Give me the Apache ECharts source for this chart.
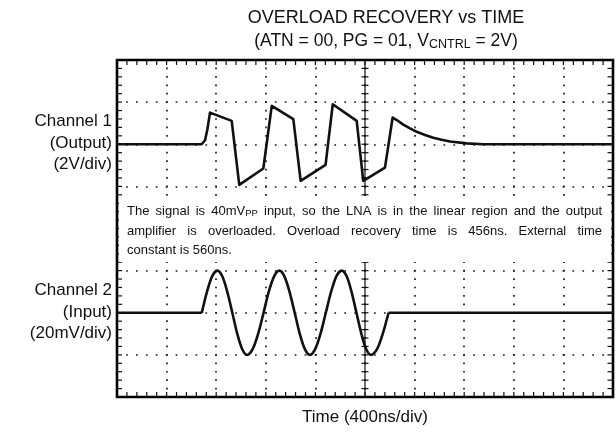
<!DOCTYPE html>
<html><head><meta charset="utf-8">
<script src="https://cdn.jsdelivr.net/npm/echarts@6/dist/echarts.min.js"></script>
<style>html,body{margin:0;padding:0;background:#fff}#c{width:616px;height:437px}</style>
</head><body><div id="c"></div>
<script>
// ---------------- data ----------------
const titleLine1 = 'OVERLOAD RECOVERY vs TIME';
const titleLine2 = '(ATN = 00, PG = 01, V_CNTRL_ = 2V)';   // _..._ marks subscript
const xAxisTitle = 'Time (400ns/div)';
const ch1Labels = ['Channel 1', '(Output)', '(2V/div)'];
const ch2Labels = ['Channel 2', '(Input)', '(20mV/div)'];
const noteLines = [
  'The signal is 40mV_PP_ input, so the LNA is in the linear region and the output',
  'amplifier is overloaded. Overload recovery time is 456ns. External time',
  'constant is 560ns.'
];

// time axis (ns), 400 ns/div, 10 divisions
const timeMin = 0, timeMax = 4000, timeStep = 400;
// channel 1 axis (V), 2 V/div
const ch1Min = -12, ch1Max = 4, ch1Step = 2;
// channel 2 axis (mV), 20 mV/div
const ch2Min = -40, ch2Max = 120, ch2Step = 20;

// Channel 1 (output), time in ns, value in V
const ch1Time = [0, 683, 710, 729, 750, 925, 986, 1180, 1248, 1422, 1481, 1682, 1740, 1933, 1986, 2161,
  2223, 2256, 2309, 2363, 2417, 2484, 2551, 2618, 2686, 2820, 2954, 4000];
const ch1Volt = [0, 0, 0.19, 0.71, 1.5, 1.11, -1.93, -1.15, 1.82, 1.19, -1.74, -0.98, 1.9, 1.11, -1.74, -1.11,
  1.27, 1.15, 0.93, 0.75, 0.59, 0.44, 0.31, 0.21, 0.13, 0.04, 0, 0];

// Channel 2 (input): resting level outside the burst, and the 3-cycle burst (time ns, value mV)
const ch2Rest = 0;
const ch2BurstTime = [684, 726, 767, 809, 849, 889, 930, 970, 1010, 1050, 1094, 1138, 1182,
  1224, 1267, 1309, 1350, 1391, 1433, 1474, 1515, 1556, 1598, 1641, 1684,
  1727, 1769, 1812, 1852, 1891, 1931, 1971, 2010, 2050, 2097, 2143, 2190];
const ch2BurstMilliVolt = [0, 10, 17.3, 20, 17.3, 10, 0, -10, -17.3, -20, -17.3, -10, 0,
  10, 17.3, 20, 17.3, 10, 0, -10, -17.3, -20, -17.3, -10, 0,
  10, 17.3, 20, 17.3, 10, 0, -10, -17.3, -20, -17.3, -10, 0];

// ---------------- layout helpers ----------------
const FONT = '"Liberation Sans", Arial, Helvetica, sans-serif';
const INK = '#111';
const mctx = document.createElement('canvas').getContext('2d');
function tw(t, s) { mctx.font = s + 'px ' + FONT; return mctx.measureText(t).width; }
// parse "abc_SUB_def" into segments
function segs(str, size, subSize) {
  return str.split('_').map((p, i) => ({ t: p, s: i % 2 ? subSize : size, sub: i % 2 === 1 })).filter(g => g.t.length);
}
function segWidth(sg) { return sg.reduce((a, g) => a + tw(g.t, g.s), 0); }
function placeSegs(sg, x, y, subDy, z) {
  const out = [];
  let cx = x;
  sg.forEach(g => {
    out.push({ type: 'text', x: cx, y: y + (g.sub ? subDy : 0), z: z, silent: true,
      style: { text: g.t, fontSize: g.s, fontFamily: FONT, fill: INK, align: 'left', verticalAlign: 'middle' } });
    cx += tw(g.t, g.s);
  });
  return out;
}
function centered(str, cx, y, size, subSize, subDy) {
  const sg = segs(str, size, subSize);
  return placeSegs(sg, cx - segWidth(sg) / 2, y, subDy, 60);
}
function justified(str, x0, x1, y, size, subSize, subDy, justify) {
  const words = str.split(' ').map(w => segs(w, size, subSize));
  const total = words.reduce((a, w) => a + segWidth(w), 0);
  const gap = justify && words.length > 1 ? (x1 - x0 - total) / (words.length - 1) : tw(' ', size);
  let x = x0; const out = [];
  words.forEach(w => { out.push(...placeSegs(w, x, y, subDy, 60)); x += segWidth(w) + gap; });
  return out;
}

// ---------------- chart ----------------
const chart = echarts.init(document.getElementById('c'), null, { renderer: 'canvas' });
const G = { left: 117, top: 60, width: 496, height: 337 };
const xDiv = G.width / ((timeMax - timeMin) / timeStep);
const yDiv = G.height / ((ch1Max - ch1Min) / ch1Step);

function zip(a, b) { return a.map((v, i) => [v, b[i]]); }

// channel 2 data: flat rest, break, smooth burst, break, flat rest
const bStart = ch2BurstTime[0], bEnd = ch2BurstTime[ch2BurstTime.length - 1];
const ch2Data = [[timeMin, ch2Rest], [bStart, ch2Rest], [bStart, null]]
  .concat(zip(ch2BurstTime, ch2BurstMilliVolt))
  .concat([[bEnd, null], [bEnd, ch2Rest], [timeMax, ch2Rest]]);

function xAxisCfg(pos, split) {
  return { type: 'value', position: pos, min: timeMin, max: timeMax, interval: timeStep,
    axisLine: { show: false, onZero: false }, axisLabel: { show: false }, axisTick: { show: false },
    splitLine: { show: split, lineStyle: { color: '#1a1a1a', width: 1.7, type: [1.7, yDiv / 5 - 1.7], dashOffset: 0.85 } } };
}
function yAxisCfg(pos, min, max, step, split) {
  return { type: 'value', position: pos, min: min, max: max, interval: step,
    axisLine: { show: false, onZero: false }, axisLabel: { show: false }, axisTick: { show: false },
    splitLine: { show: split, lineStyle: { color: '#1a1a1a', width: 1.7, type: [1.7, xDiv / 5 - 1.7], dashOffset: 0.85 } } };
}

const centerT = (timeMin + timeMax) / 2;

const graphics = [];
// white annotation box
graphics.push({ type: 'rect', z: 50, silent: true, shape: { x: 119, y: 196, width: 492, height: 66 }, style: { fill: '#fff' } });
// annotation text
graphics.push(...justified(noteLines[0], 127, 602, 211.5, 13, 9.5, 2, true));
graphics.push(...justified(noteLines[1], 127, 602, 231, 13, 9.5, 2, true));
graphics.push(...justified(noteLines[2], 127, 602, 250, 13, 9.5, 2, false));
// titles
graphics.push(...centered(titleLine1, 386, 18, 18, 12.5, 4));
graphics.push(...centered(titleLine2, 386, 41, 17.5, 12.5, 4));
// x axis title
graphics.push(...centered(xAxisTitle, 365, 417, 17, 12, 4));
// channel labels
[[ch1Labels, [121, 143, 164]], [ch2Labels, [290, 312, 333]]].forEach(([labs, ys]) => {
  labs.forEach((t, i) => graphics.push({ type: 'text', x: 112, y: ys[i], z: 60, silent: true,
    style: { text: t, fontSize: 17, fontFamily: FONT, fill: INK, align: 'right', verticalAlign: 'middle' } }));
});

const TK = { stroke: '#111', lineWidth: 1.2 };
chart.setOption({
  animation: false,
  backgroundColor: '#fff',
  grid: { left: G.left, top: G.top, width: G.width, height: G.height, show: true, borderColor: '#000', borderWidth: 2.6, backgroundColor: 'transparent', z: 4 },
  xAxis: [xAxisCfg('bottom', true), xAxisCfg('top', false)],
  yAxis: [yAxisCfg('left', ch1Min, ch1Max, ch1Step, true), yAxisCfg('right', ch2Min, ch2Max, ch2Step, false)],
  series: [
    { type: 'custom', xAxisIndex: 0, yAxisIndex: 0, silent: true, z: 1, data: [[centerT, ch1Min]],
      renderItem: function (params, api) {
        const ch = [];
        const top = api.coord([centerT, ch1Max]), bot = api.coord([centerT, ch1Min]);
        const lft = api.coord([timeMin, ch1Min])[0], rgt = api.coord([timeMax, ch1Min])[0];
        // centre vertical line with cross ticks, plus inward border ticks
        ch.push({ type: 'line', shape: { x1: top[0], y1: top[1], x2: bot[0], y2: bot[1] }, style: { stroke: '#111', lineWidth: 1.2 } });
        const vStep = ch1Step / 5;
        for (let v = ch1Min; v <= ch1Max + 1e-9; v += vStep) {
          const p = api.coord([centerT, v]);
          ch.push({ type: 'line', shape: { x1: p[0] - 3.5, y1: p[1], x2: p[0] + 3.5, y2: p[1] }, style: TK });
          ch.push({ type: 'line', shape: { x1: lft, y1: p[1], x2: lft + 5, y2: p[1] }, style: TK });
          ch.push({ type: 'line', shape: { x1: rgt, y1: p[1], x2: rgt - 5.5, y2: p[1] }, style: TK });
        }
        const tStep = timeStep / 5;
        for (let t = timeMin; t <= timeMax + 1e-9; t += tStep) {
          const p = api.coord([t, ch1Min]);
          ch.push({ type: 'line', shape: { x1: p[0], y1: top[1], x2: p[0], y2: top[1] + 5 }, style: TK });
          ch.push({ type: 'line', shape: { x1: p[0], y1: bot[1], x2: p[0], y2: bot[1] - 5 }, style: TK });
        }
        return { type: 'group', children: ch };
      } },
    { name: 'Channel 1', type: 'line', xAxisIndex: 0, yAxisIndex: 0, data: zip(ch1Time, ch1Volt),
      showSymbol: false, smooth: false, z: 5, lineStyle: { color: '#111', width: 2.6, join: 'round' } },
    { name: 'Channel 2', type: 'line', xAxisIndex: 0, yAxisIndex: 1, data: ch2Data, connectNulls: false,
      showSymbol: false, smooth: 0.3, z: 5, lineStyle: { color: '#111', width: 2.6, join: 'round' } }
  ],
  graphic: { elements: graphics }
});
</script></body></html>
